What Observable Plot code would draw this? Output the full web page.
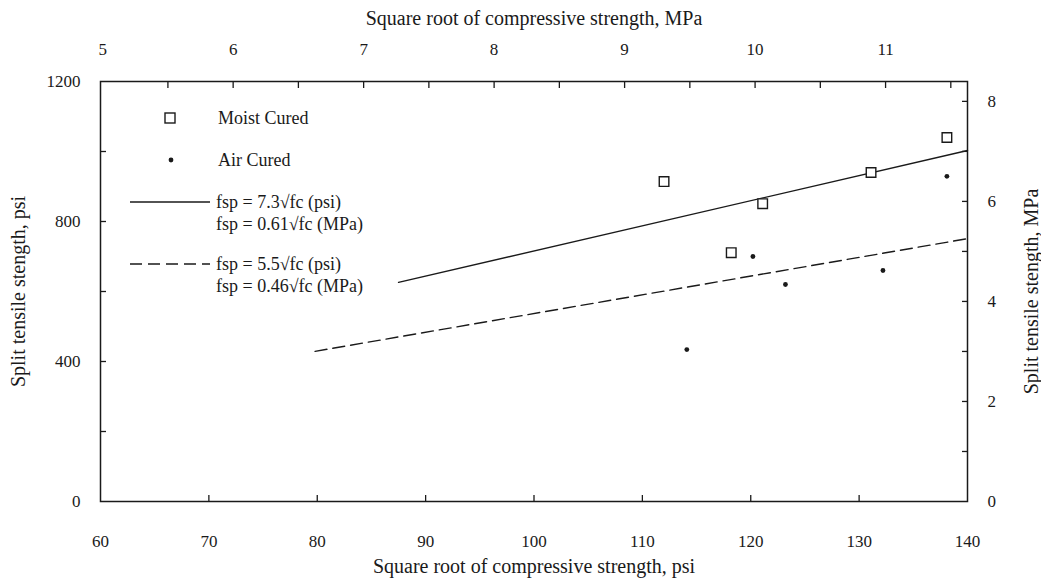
<!DOCTYPE html>
<html><head><meta charset="utf-8">
<script src="https://cdn.jsdelivr.net/npm/d3@7"></script>
<script src="https://cdn.jsdelivr.net/npm/@observablehq/plot@0.6"></script>
<style>
html,body{margin:0;padding:0;background:#fff;}
#chart{width:1041px;height:579px;overflow:hidden;}
</style></head><body><div id="chart"></div>
<script>
// Data (x: sqrt of compressive strength, psi; y: split tensile strength, psi)
const moistX = [112.0, 118.2, 121.1, 131.1, 138.1];
const moistY = [914, 711, 851, 940, 1040];
const airX = [114.1, 120.2, 123.2, 132.2, 138.1];
const airY = [434, 700, 620, 660, 929];
const solidX = [87.5, 140];
const solidY = [626, 1003];
const dashedX = [79.8, 140];
const dashedY = [429, 751];

// Axis ticks
const xLabelTicks = [60, 70, 80, 90, 100, 110, 120, 130, 140];
const xInnerTicks = [70, 80, 90, 100, 110, 120, 130];
const yLabelTicks = [0, 400, 800, 1200];
const yInnerTicks = [200, 400, 600, 800, 1000];
const topLabelTicks = [5, 6, 7, 8, 9, 10, 11];
const topInnerTicks = [5.5, 6, 6.5, 7, 7.5, 8, 8.5, 9, 9.5, 10, 10.5, 11, 11.5];
const rightLabelTicks = [0, 2, 4, 6, 8];
const rightInnerTicks = [1, 2, 3, 4, 5, 6, 7, 8];

// Unit conversions used by the secondary axes
const SQRT_PSI_PER_SQRT_MPA = 12.04;
const PSI_PER_MPA = 142.9;

// Legend entries
const legendLabels = ["Moist Cured", "Air Cured"];
const solidLegend = ["fsp = 7.3\u221Afc (psi)", "fsp = 0.61\u221Afc (MPa)"];
const dashedLegend = ["fsp = 5.5\u221Afc (psi)", "fsp = 0.46\u221Afc (MPa)"];

const moist = moistX.map((x, i) => ({x, y: moistY[i]}));
const air = airX.map((x, i) => ({x, y: airY[i]}));
const solid = solidX.map((x, i) => ({x, y: solidY[i]}));
const dashed = dashedX.map((x, i) => ({x, y: dashedY[i]}));

const F = "'Liberation Serif', 'Times New Roman', serif";
const INK = "#1a1a1a";
const none = () => "";
const plain = d => String(d);

const svg = Plot.plot({
  width: 1041, height: 579,
  marginLeft: 100, marginRight: 74, marginTop: 81, marginBottom: 78,
  style: {fontFamily: F, fontSize: "17px", color: INK, background: "#fff"},
  x: {domain: [60, 140]},
  y: {domain: [0, 1200]},
  marks: [
    // bottom axis
    Plot.axisX({anchor: "bottom", ticks: xLabelTicks, tickFormat: plain, tickSize: 0, tickPadding: 33, label: null}),
    Plot.axisX({anchor: "bottom", ticks: xInnerTicks, tickSize: -6, tickFormat: none, label: null, strokeWidth: 1.3}),
    Plot.axisX({anchor: "bottom", ticks: [], label: "Square root of compressive strength, psi", labelAnchor: "center", labelOffset: 71, labelArrow: "none", fontSize: 20}),
    // top axis (sqrt MPa)
    Plot.axisX({anchor: "top", ticks: topLabelTicks.map(v => v * SQRT_PSI_PER_SQRT_MPA), tickFormat: d => String(Math.round(d / SQRT_PSI_PER_SQRT_MPA)), tickSize: 0, tickPadding: 27, label: null}),
    Plot.axisX({anchor: "top", ticks: topInnerTicks.map(v => v * SQRT_PSI_PER_SQRT_MPA), tickSize: -6, tickFormat: none, label: null, strokeWidth: 1.3}),
    Plot.axisX({anchor: "top", ticks: [], label: "Square root of compressive strength, MPa", labelAnchor: "center", labelOffset: 71, labelArrow: "none", fontSize: 20}),
    // left axis
    Plot.axisY({anchor: "left", ticks: yLabelTicks, tickFormat: plain, tickSize: 0, tickPadding: 20, label: null}),
    Plot.axisY({anchor: "left", ticks: yInnerTicks, tickSize: -6, tickFormat: none, label: null, strokeWidth: 1.3}),
    Plot.axisY({anchor: "left", ticks: [], label: "Split tensile stength, psi", labelAnchor: "center", labelOffset: 90, labelArrow: "none", fontSize: 20}),
    // right axis (MPa)
    Plot.axisY({anchor: "right", ticks: rightLabelTicks.map(v => v * PSI_PER_MPA), tickFormat: d => String(Math.round(d / PSI_PER_MPA)), tickSize: 0, tickPadding: 20, label: null}),
    Plot.axisY({anchor: "right", ticks: rightInnerTicks.map(v => v * PSI_PER_MPA), tickSize: -6, tickFormat: none, label: null, strokeWidth: 1.3}),
    Plot.axisY({anchor: "right", ticks: [], label: "Split tensile stength, MPa", labelAnchor: "center", labelOffset: 70, labelArrow: "none", fontSize: 20}),
    Plot.frame({stroke: INK, strokeWidth: 1.5}),
    // fitted lines
    Plot.line(solid, {x: "x", y: "y", stroke: INK, strokeWidth: 1.4}),
    Plot.line(dashed, {x: "x", y: "y", stroke: INK, strokeWidth: 1.4, strokeDasharray: "12,6"}),
    // data
    Plot.dot(moist, {x: "x", y: "y", symbol: "square", r: 5.4, stroke: INK, strokeWidth: 1.4, fill: "#fff"}),
    Plot.dot(air, {x: "x", y: "y", r: 2.4, fill: INK, stroke: "none"})
  ]
});

// In-plot legend
const g = d3.select(svg).append("g")
  .attr("font-family", F).attr("font-size", 18).attr("fill", INK)
  .attr("text-anchor", "start");
const rowY = [118, 160];
g.append("rect").attr("x", 165).attr("y", rowY[0] - 5).attr("width", 10).attr("height", 10)
  .attr("fill", "#fff").attr("stroke", INK).attr("stroke-width", 1.4);
g.append("circle").attr("cx", 171).attr("cy", rowY[1]).attr("r", 2.4).attr("fill", INK);
legendLabels.forEach((t, i) => {
  g.append("text").attr("x", 218).attr("y", rowY[i]).attr("dy", "0.35em").attr("text-anchor", "start").text(t);
});
const lineRows = [{y: 202, dash: null, text: solidLegend}, {y: 264, dash: "12,6", text: dashedLegend}];
lineRows.forEach(r => {
  g.append("line").attr("x1", 130).attr("x2", 210).attr("y1", r.y).attr("y2", r.y)
    .attr("stroke", INK).attr("stroke-width", 1.4).attr("stroke-dasharray", r.dash);
  r.text.forEach((t, j) => {
    g.append("text").attr("x", 216).attr("y", r.y + j * 22).attr("dy", "0.35em").attr("text-anchor", "start").text(t);
  });
});

document.getElementById("chart").appendChild(svg);
</script>
</body></html>
